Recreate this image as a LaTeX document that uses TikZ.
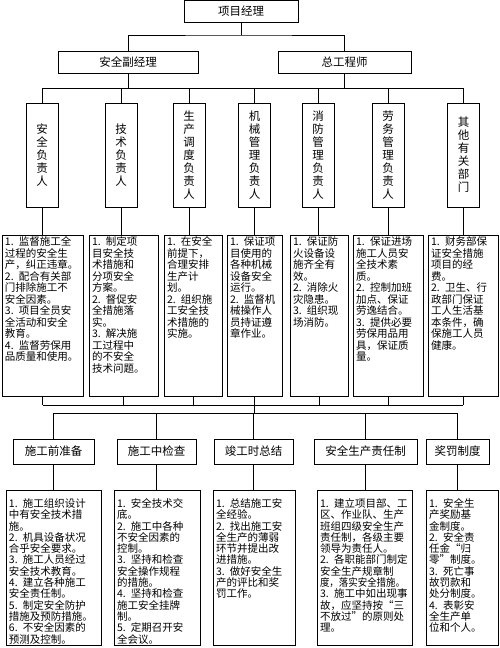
\documentclass[tikz,border=0pt]{standalone}
\usepackage{fontspec}
\usepackage{graphicx}
\setmainfont{Noto Sans CJK SC}
\lineskiplimit=-20pt
\begin{document}
\begin{tikzpicture}[x=1pt,y=-1pt,line width=0.8pt,
    post/.style={draw,minimum height=22,inner sep=0pt,font=\fontsize{11.5}{13}\selectfont},
    unit/.style={draw,minimum width=32,minimum height=104,inner sep=0pt,text width=14,align=center,font=\fontsize{11.5}{13}\selectfont},
    duty/.style={draw,anchor=north,inner sep=3,text width=#1,text height=7.5,text depth=147.5,align=left,font=\fontsize{10.5}{11.5}\selectfont},
    detail/.style={draw,anchor=north,inner sep=3,text width=#1,text height=14,text depth=135,align=left,font=\fontsize{10.5}{11.3}\selectfont}]

    \useasboundingbox (0,0) rectangle (500,648);

    % Managers
    \node[post, minimum width=114] (pm) at (241,11.5) {项目经理};
    \node[post, minimum width=140] (sv) at (128,62) {安全副经理};
    \node[post, minimum width=133] (ce) at (344.5,62) {总工程师};
    \coordinate (top) at (241,35);
    \draw (pm) -- (top);
    \draw (sv.north) |- (top) -| (ce.north);

    % Responsible persons
    \foreach \n/\x/\t in {1/42/{安\\全\\负\\责\\人},
                          2/121/{技\\术\\负\\责\\人},
                          3/189/{生\\产\\调\\度\\负\\责\\人},
                          4/254.5/{机\\械\\管\\理\\负\\责\\人},
                          5/318/{消\\防\\管\\理\\负\\责\\人},
                          6/388/{劳\\务\\管\\理\\负\\责\\人},
                          7/463.5/{其\\他\\有\\关\\部\\门}}
      \node[unit] (u\n) at (\x,155) {\t};
    \coordinate (row) at (254.5,88);
    \draw (u1.north |- row) -- (u7.north |- row);
    \draw (sv) -- (sv.south |- row);
    \draw (ce) -- (ce.south |- row);
    \foreach \n in {1,...,7}
      \draw (u\n) -- (u\n.north |- row);

    % Duties
    \node[duty=75] (d1) at (42.5,235) {1. 监督施工全\\过程的安全生\\产，纠正违章。\\2. 配合有关部\\门排除施工不\\安全因素。\\3. 项目全员安\\全活动和安全\\教育。\\4. 监督劳保用\\品质量和使用。};
    \node[duty=63] (d2) at (123.5,235) {1. 制定项\\目安全技\\术措施和\\分项安全\\方案。\\2. 督促安\\全措施落\\实。\\3. 解决施\\工过程中\\的不安全\\技术问题。};
    \node[duty=52] (d3) at (193,235) {1. 在安全\\前提下，\\合理安排\\生产计\\划。\\2. 组织施\\工安全技\\术措施的\\实施。};
    \node[duty=49] (d4) at (254.5,235) {1. 保证项\\目使用的\\各种机械\\设备安全\\运行。\\2. 监督机\\械操作人\\员持证遵\\章作业。};
    \node[duty=52] (d5) at (319,235) {1. 保证防\\火设备设\\施齐全有\\效。\\2. 消除火\\灾隐患。\\3. 组织现\\场消防。};
    \node[duty=64] (d6) at (388,235) {1. 保证进场\\施工人员安\\全技术素\\质。\\2. 控制加班\\加点、保证\\劳逸结合。\\3. 提供必要\\劳保用品用\\具，保证质\\量。};
    \node[duty=64] (d7) at (463,235) {1. 财务部保\\证安全措施\\项目的经\\费。\\2. 卫生、行\\政部门保证\\工人生活基\\本条件，确\\保施工人员\\健康。};
    \foreach \n in {1,...,7}
      \draw (u\n) -- (u\n.south |- d\n.north);

    \coordinate (mid) at (254.5,405);
    \coordinate (low) at (254.5,413);
    \draw (d1.south |- mid) -- (d7.south |- mid);
    \foreach \n in {1,...,7}
      \draw (d\n) -- (d\n.south |- mid);
    \draw (mid) -- (low);

    % Phases
    \node[post, minimum width=81, minimum height=25] (p1) at (53.5,451.5) {施工前准备};
    \node[post, minimum width=79, minimum height=25] (p2) at (156.5,451.5) {施工中检查};
    \node[post, minimum width=79, minimum height=25] (p3) at (253.5,451.5) {竣工时总结};
    \node[post, minimum width=103, minimum height=25] (p4) at (365.5,451.5) {安全生产责任制};
    \node[post, minimum width=63, minimum height=25] (p5) at (457.5,451.5) {奖罚制度};
    \draw (p1.north |- low) -- (p5.north |- low);
    \foreach \n in {1,...,5}
      \draw (p\n) -- (p\n.north |- low);

    % Details
    \node[detail=89] (b1) at (53.5,490) {1. 施工组织设计\\中有安全技术措\\施。\\2. 机具设备状况\\合乎安全要求。\\3. 施工人员经过\\安全技术教育。\\4. 建立各种施工\\安全责任制。\\5. 制定安全防护\\措施及预防措施。\\6. 不安全因素的\\预测及控制。};
    \node[detail=80] (b2) at (157,490) {1. 安全技术交\\底。\\2. 施工中各种\\不安全因素的\\控制。\\3. 坚持和检查\\安全操作规程\\的措施。\\4. 坚持和检查\\施工安全挂牌\\制。\\5. 定期召开安\\全会议。};
    \node[detail=76] (b3) at (254,490) {1. 总结施工安\\全经验。\\2. 找出施工安\\全生产的薄弱\\环节并提出改\\进措施。\\3. 做好安全生\\产的评比和奖\\罚工作。};
    \node[detail=89] (b4) at (364.5,490) {1. 建立项目部、工\\区、作业队、生产\\班组四级安全生产\\责任制，各级主要\\领导为责任人。\\2. 各职能部门制定\\安全生产规章制\\\scalebox{0.9}[1]{度，落实安全措施。}\\3. 施工中如出现事\\故，应坚持按“三\\不放过”的原则处\\理。};
    \node[detail=66] (b5) at (462,490) {1. 安全生\\产奖励基\\金制度。\\2. 安全责\\任金“归\\零”制度。\\3. 死亡事\\故罚款和\\处分制度。\\4. 表彰安\\全生产单\\位和个人。};
    \foreach \n in {1,...,5}
      \draw (p\n) -- (p\n.south |- b\n.north);
\end{tikzpicture}
\end{document}
